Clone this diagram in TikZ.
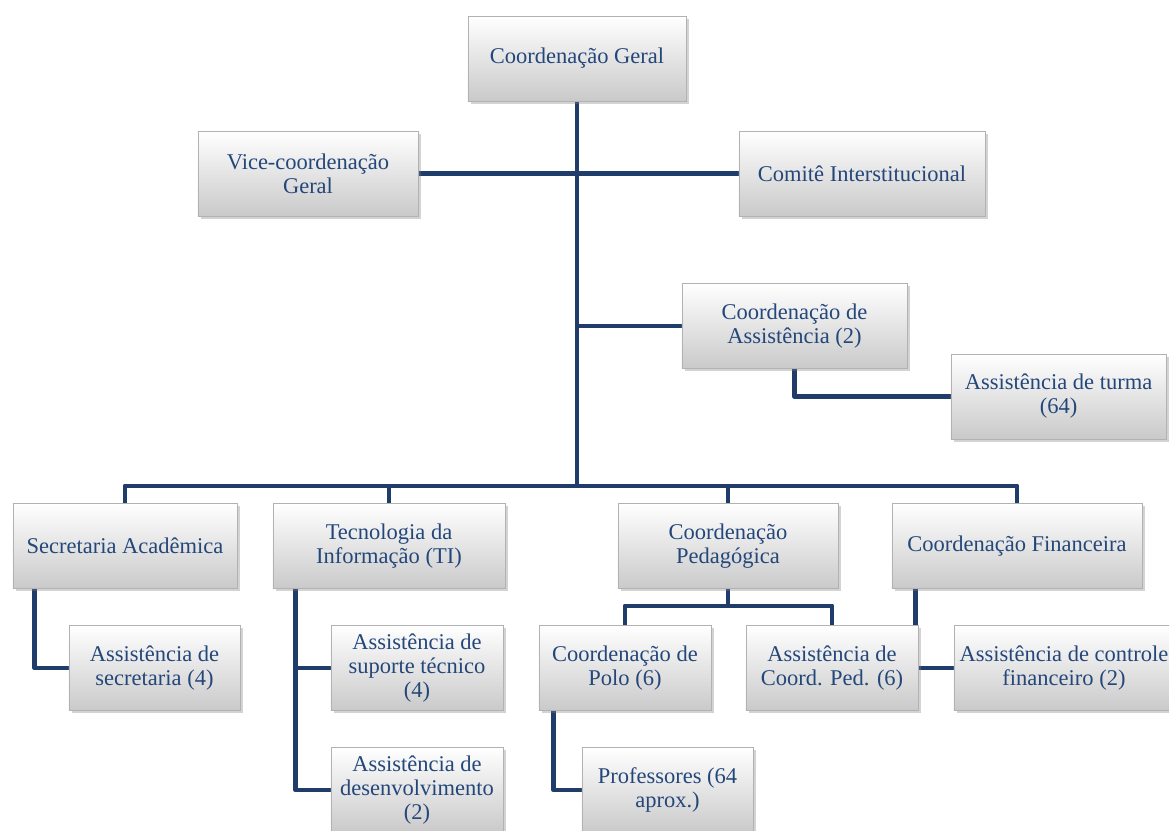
\documentclass[tikz,border=0pt]{standalone}
\usepackage{fontspec}
\setmainfont{Liberation Serif}
\usetikzlibrary{calc,shadows,backgrounds}
\definecolor{linkblue}{HTML}{1F3C6B}
\definecolor{textblue}{HTML}{24477A}
\tikzset{
	orgbox/.style={rectangle, draw=black!30, top color=white, bottom color=black!21,
		drop shadow={shadow xshift=2pt, shadow yshift=-2pt, opacity=0.35},
		text=textblue, align=center, font=\fontsize{16}{17}\selectfont,
		minimum height=2.125cm, inner sep=2pt},
	orgline/.style={line width=3.5pt, color=linkblue, line join=round},
}

\begin{document}
\begin{tikzpicture}[x=0.025cm, y=-0.025cm]
			%%%%% START %%%%%
			\useasboundingbox (0,0) rectangle (1169,830);
			
			\node[orgbox, minimum width=5.45cm] (geral) at (577, 58.5) {Coordenação Geral};
			\node[orgbox, minimum width=5.5cm] (vice) at (308, 173.5) {Vice-coordenação\\Geral};
			\node[orgbox, minimum width=6.15cm] (comite) at (862, 173.5) {Comitê Interstitucional};
			
			\node[orgbox, minimum width=5.625cm] (coordassist) at (794.5, 326) {Coordenação de\\Assistência (2)};
			\node[orgbox, minimum width=5.375cm] (turma) at (1058.5, 396.5) {Assistência de turma\\(64)};
			
			\node[orgbox, minimum width=5.6cm] (secacad) at (125, 546) {Secretaria Acadêmica};
			\node[orgbox, minimum width=5.8cm] (ti) at (389, 546) {Tecnologia da\\Informação (TI)};
			\node[orgbox, minimum width=5.5cm] (pedag) at (728, 546) {Coordenação\\Pedagógica};
			\node[orgbox, minimum width=6.25cm] (financ) at (1017, 546) {Coordenação Financeira};
			
			\node[orgbox, minimum width=4.275cm] (asssec) at (154.5, 668) {Assistência de\\secretaria (4)};
			\node[orgbox, minimum width=4.3cm] (suporte) at (417, 668) {Assistência de\\suporte técnico\\(4)};
			\node[orgbox, minimum width=4.3cm] (desenv) at (417, 790) {Assistência de\\desenvolvimento\\(2)};
			\node[orgbox, minimum width=4.3cm] (polo) at (625, 668) {Coordenação de\\Polo (6)};
			\node[orgbox, minimum width=4.3cm] (asscp) at (832, 668) {Assistência de\\Coord. Ped. (6)};
			\node[orgbox, minimum width=5.5cm] (controle) at (1064, 668) {Assistência de controle\\financeiro (2)};
			\node[orgbox, minimum width=4.275cm] (prof) at (667.5, 790) {Professores (64\\aprox.)};
			
			\coordinate (bus) at (577, 486);
			\coordinate (pedJ) at (728, 606);
			
			\begin{scope}[on background layer]
				\draw[orgline] (geral.south) -- (bus);
				\draw[orgline] (vice.east) -- (comite.west);
				\draw[orgline] (coordassist.west) -- (coordassist.west -| bus);
				\draw[orgline] (coordassist.south) |- (turma.west);
				
				\draw[orgline] (secacad.north) -- (secacad.north |- bus) -- (financ.north |- bus) -- (financ.north);
				\draw[orgline] (ti.north) -- (ti.north |- bus);
				\draw[orgline] (pedag.north) -- (pedag.north |- bus);
				
				\draw[orgline] ($(secacad.south west)+(22,0)$) |- (asssec.west);
				\coordinate (tiL) at ($(ti.south west)+(23,0)$);
				\draw[orgline] (tiL) |- (suporte.west);
				\draw[orgline] (tiL) |- (desenv.west);
				
				\draw[orgline] (pedag.south) -- (pedJ);
				\draw[orgline] (polo.north) |- (pedJ) -| (asscp.north);
				\draw[orgline] ($(polo.south west)+(15,0)$) |- (prof.west);
				
				\draw[orgline] ($(financ.south west)+(24,0)$) |- (controle.west);
			\end{scope}
			
			%%%%% END %%%%%
\end{tikzpicture}
\end{document}
